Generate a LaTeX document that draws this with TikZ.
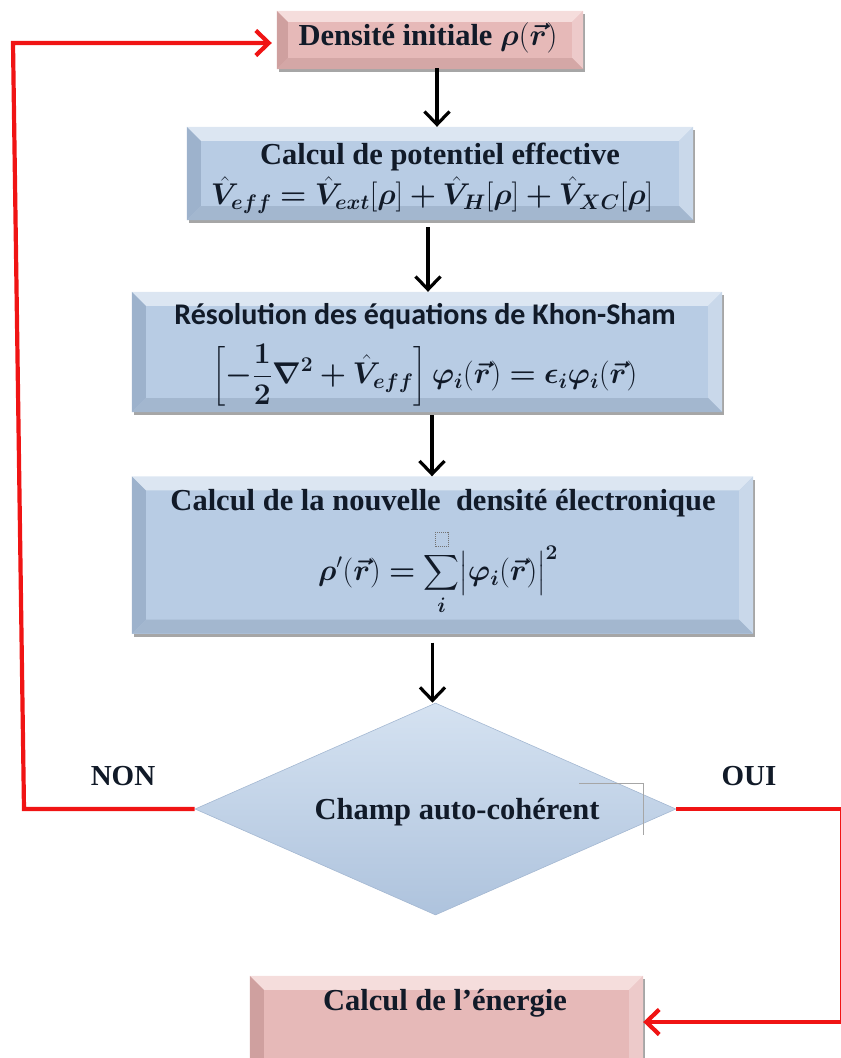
\RequirePackage{fix-cm}
\documentclass[tikz,border=0pt]{standalone}
\usepackage{amsmath}
\usepackage{bm}
\usepackage{fontspec}
\setmainfont{Liberation Serif}
\newfontfamily\calib{Carlito}
\usetikzlibrary{shapes.geometric,arrows.meta,calc,shadows}

\definecolor{ink}{HTML}{111A28}
\definecolor{bbase}{HTML}{B8CCE4}
\definecolor{btop}{HTML}{DCE6F2}
\definecolor{bleft}{HTML}{9DB2CC}
\definecolor{bright}{HTML}{C9D8EA}
\definecolor{bbot}{HTML}{A3B7CF}
\definecolor{pbase}{HTML}{E6B9B8}
\definecolor{ptop}{HTML}{F5DDDC}
\definecolor{pleft}{HTML}{CFA09F}
\definecolor{pright}{HTML}{EDCACA}
\definecolor{pbot}{HTML}{D4A7A6}
\definecolor{dtop}{HTML}{D5E2F1}
\definecolor{dbot}{HTML}{AEC3DD}
\definecolor{dedge}{HTML}{A4B8D2}
\definecolor{loopred}{HTML}{F01414}

\newcommand\dsq{\tikz[baseline=0pt]\draw[densely dotted, line width=1pt, black!55] (0pt,2pt) rectangle (13pt,16pt);}

\newcommand\bevelize[6]{%
  \fill[#3] (#1.north west) -- (#1.north east) -- ($(#1.north east)+(-#2,#2)$) -- ($(#1.north west)+(#2,#2)$) -- cycle;
  \fill[#4] (#1.north west) -- ($(#1.north west)+(#2,#2)$) -- ($(#1.south west)+(#2,-#2)$) -- (#1.south west) -- cycle;
  \fill[#5] (#1.north east) -- ($(#1.north east)+(-#2,#2)$) -- ($(#1.south east)+(-#2,-#2)$) -- (#1.south east) -- cycle;
  \fill[#6] (#1.south west) -- ($(#1.south west)+(#2,-#2)$) -- ($(#1.south east)+(-#2,-#2)$) -- (#1.south east) -- cycle;
}

\tikzset{
  boxshape/.style={rectangle, inner sep=0pt, draw=none,
    drop shadow={shadow xshift=1.5pt, shadow yshift=-3pt, opacity=.35, fill=black}},
  bluebox/.style={boxshape, fill=bbase},
  pinkbox/.style={boxshape, fill=pbase},
  txt/.style={font=\fontsize{30.5}{35}\selectfont\bfseries, text=ink, inner sep=0pt},
  mtxt/.style={font=\fontsize{30}{35}\selectfont\bfseries, text=ink, inner sep=0pt},
  sanstxt/.style={font=\fontsize{30}{35}\selectfont\calib\bfseries, text=ink, inner sep=0pt},
  lbl/.style={font=\fontsize{29}{34}\selectfont\bfseries, text=ink, inner sep=0pt},
  arr/.style={draw=black, line width=3.2pt, -{Straight Barb[length=13pt,width=25pt]}},
  redarr/.style={draw=loopred, line width=4.2pt, -{Straight Barb[length=13pt,width=25pt]}}
}

\begin{document}
\begin{tikzpicture}[x=1pt,y=-1pt]
\useasboundingbox (0,0) rectangle (841,1058);

% boxes
\node[pinkbox, minimum width=306pt, minimum height=58pt] (b1) at (430,40) {};
\bevelize{b1}{11}{ptop}{pleft}{pright}{pbot}
\node[bluebox, minimum width=506pt, minimum height=93pt] (b2) at (440,173.5) {};
\bevelize{b2}{14}{btop}{bleft}{bright}{bbot}
\node[bluebox, minimum width=590pt, minimum height=120pt] (b3) at (427,352) {};
\bevelize{b3}{14}{btop}{bleft}{bright}{bbot}
\node[bluebox, minimum width=621pt, minimum height=157pt] (b4) at (442.5,555) {};
\bevelize{b4}{14}{btop}{bleft}{bright}{bbot}
\node[pinkbox, minimum width=393pt, minimum height=104pt] (b5) at (446.5,1028) {};
\bevelize{b5}{14}{ptop}{pleft}{pright}{pbot}

% decision
\node[diamond, aspect=2.27, inner sep=0pt, minimum width=481pt, minimum height=212pt,
      top color=dtop, bottom color=dbot, draw=dedge, line width=0.6pt] (d) at (435.5,809) {};
\draw[black!35, line width=0.5pt] (579,783) -- (643,783) -- (643,835);

% texts
\node[txt] (t1) at (428,38) {Densité initiale $\bm{\rho}(\bm{\vec r})$};
\node[txt] (t2a) at (440,157) {Calcul de potentiel effective};
\node[mtxt] (t2b) at (432,195) {$\bm{\hat V}_{\bm{eff}} \bm{=} \bm{\hat V}_{\bm{ext}}[\bm\rho] \bm{+} \bm{\hat V}_{\bm H}[\bm\rho] \bm{+} \bm{\hat V}_{\bm{XC}}[\bm\rho]$};
\node[sanstxt] (t3a) at (425,316) {Résolution des équations de Khon-Sham};
\node[mtxt] (t3b) at (425,375) {$\displaystyle\left[\bm{-}\frac{\bm 1}{\bm 2}\bm\nabla^{\bm 2} \bm{+} \bm{\hat V}_{\bm{eff}}\right]\bm\varphi_{\bm i}(\bm{\vec r}) \bm{=} \bm\epsilon_{\bm i}\bm\varphi_{\bm i}(\bm{\vec r})$};
\node[txt] (t4a) at (443,503) {Calcul de la nouvelle \ densité électronique};
\node[mtxt] (t4b) at (438,572) {$\displaystyle \bm\rho'(\bm{\vec r}) \bm{=} \sum_{\bm i}^{\dsq}\bigl|\bm\varphi_{\bm i}(\bm{\vec r})\bigr|^{\bm 2}$};
\node[txt] (td) at (457,812) {Champ auto-cohérent};
\node[txt] (t5) at (445,1003) {Calcul de l’énergie};
\node[lbl] (non) at (123,776) {NON};
\node[lbl] (oui) at (749,776) {OUI};

% black arrows
\coordinate (a1) at ($(b1.south)+(7,-1)$);
\coordinate (a2) at ($(b2.south)+(-12,7)$);
\coordinate (a3) at ($(b3.south)+(5,3)$);
\coordinate (a4) at ($(b4.south)+(-10,9)$);
\draw[arr] (a1) -- (a1 |- b2.north);
\draw[arr] (a2) -- (a2 |- b3.north);
\draw[arr] (a3) -- (a3 |- b4.north);
\draw[arr] (a4) -- (a4 |- d.north);

% red loops
\coordinate (cTop) at (13,43);
\coordinate (cBot) at (24,809);
\coordinate (cR) at (842,1022);
\draw[redarr, line join=miter, shorten >=5pt] (d.west) -- (d.west -| cBot) -- (cTop) -- (cTop -| b1.west);
\draw[redarr, line join=miter] (d.east) -- (d.east -| cR) -- (cR) -- (cR -| b5.east);
\end{tikzpicture}
\end{document}
